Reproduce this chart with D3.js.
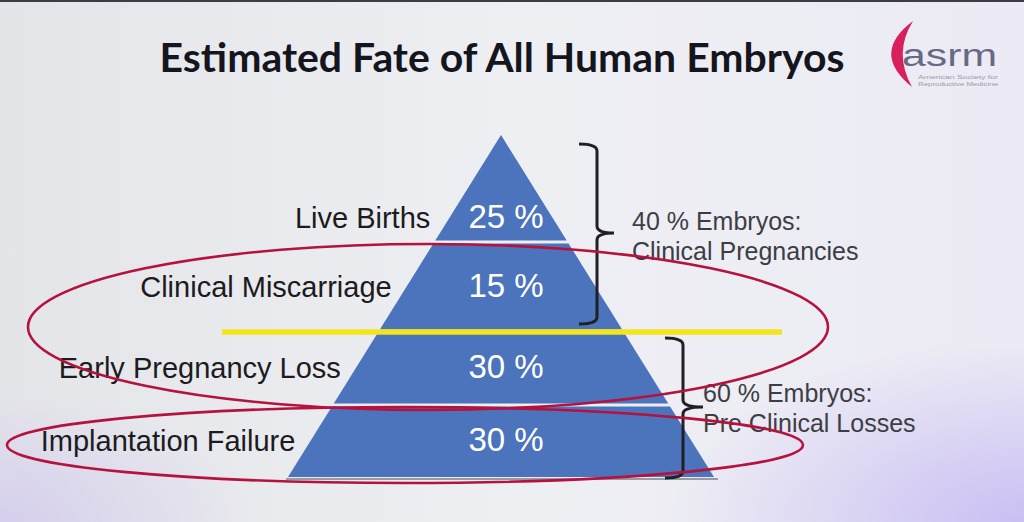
<!DOCTYPE html>
<html>
<head>
<meta charset="utf-8">
<script src="https://cdn.jsdelivr.net/npm/d3@7"></script>
<style>
  html, body { margin: 0; padding: 0; background: #eceef2; }
  svg { display: block; }
</style>
</head>
<body>
<svg id="chart" width="1024" height="522"></svg>
<script>
// ---------------- data ----------------
const title = "Estimated Fate of All Human Embryos";
const categories = ["Live Births", "Clinical Miscarriage", "Early Pregnancy Loss", "Implantation Failure"];
const values = [25, 15, 30, 30];
const groupNames = ["Clinical Pregnancies", "Pre Clinical Losses"];
const groupMembers = [[0, 1], [2, 3]];
const circledTiers = [[1, 2], [3, 3]]; // tiers enclosed by the red hand-drawn ellipses
const logoText = "asrm";
const logoSub = ["American Society for", "Reproductive Medicine"];

// ---------------- layout ----------------
const W = 1024, H = 522;
const svg = d3.select("#chart");
const defs = svg.append("defs");

// background (photographed slide)
const lg = defs.append("linearGradient").attr("id", "bgLin").attr("x1", 0).attr("y1", 0).attr("x2", 1).attr("y2", 0);
lg.append("stop").attr("offset", 0).attr("stop-color", "#e4e5e9");
lg.append("stop").attr("offset", 0.5).attr("stop-color", "#eeeff3");
lg.append("stop").attr("offset", 1).attr("stop-color", "#ecebf5");
const rgR = defs.append("radialGradient").attr("id", "bgR").attr("cx", 1).attr("cy", 1).attr("r", 0.35);
rgR.append("stop").attr("offset", 0).attr("stop-color", "#c4b7f3").attr("stop-opacity", 0.85);
rgR.append("stop").attr("offset", 1).attr("stop-color", "#c4b7f3").attr("stop-opacity", 0);
const rgL = defs.append("radialGradient").attr("id", "bgL").attr("cx", 0).attr("cy", 1).attr("r", 0.25);
rgL.append("stop").attr("offset", 0).attr("stop-color", "#d2c9ee").attr("stop-opacity", 0.8);
rgL.append("stop").attr("offset", 1).attr("stop-color", "#d2c9ee").attr("stop-opacity", 0);

svg.append("rect").attr("width", W).attr("height", H).attr("fill", "url(#bgLin)");
svg.append("rect").attr("width", W).attr("height", H).attr("fill", "url(#bgR)");
svg.append("rect").attr("width", W).attr("height", H).attr("fill", "url(#bgL)");
svg.append("rect").attr("width", W).attr("height", 2).attr("fill", "#3c3c44");

// title
const titleText = svg.append("text")
  .attr("x", 502).attr("y", 72)
  .attr("text-anchor", "middle")
  .attr("font-family", "Lato, 'Open Sans', sans-serif")
  .attr("font-weight", "bold")
  .attr("font-size", 36)
  .attr("fill", "#15151d")
  .text(title);
(function fit(sel, target) {
  const w = sel.node().getComputedTextLength();
  const fs = +sel.attr("font-size");
  sel.attr("font-size", fs * target / w);
})(titleText, 685);

// logo
const logo = svg.append("g");
logo.append("path")
  .attr("d", "M913,21 Q870,53 912,87 Q893,53 913,21 Z")
  .attr("fill", "#d7215d");
logo.append("text")
  .attr("x", 902).attr("y", 66)
  .attr("font-family", "'Liberation Sans', Arial, sans-serif")
  .attr("font-size", 31)
  .attr("fill", "#676a84")
  .attr("textLength", 95).attr("lengthAdjust", "spacingAndGlyphs")
  .text(logoText);
logo.selectAll("text.sub").data(logoSub).join("text")
  .attr("class", "sub")
  .attr("x", 918).attr("y", (d, i) => 79 + i * 7)
  .attr("font-family", "'Liberation Sans', Arial, sans-serif")
  .attr("font-size", 6)
  .attr("fill", "#9a9aa6")
  .attr("textLength", 80).attr("lengthAdjust", "spacingAndGlyphs")
  .text(d => d);

// pyramid geometry
const apexX = 501;
const tierY = d3.scaleLinear()
  .domain(d3.range(categories.length + 1))
  .range([135, 242, 331, 405, 477]);
const slope = 213 / (tierY(categories.length) - tierY(0));
const halfW = y => (y - tierY(0)) * slope;

const tiers = categories.map((c, i) => ({ name: c, value: values[i], i }));

const pyr = svg.append("g");
// base shadow
pyr.append("line")
  .attr("x1", apexX - halfW(tierY(4)) - 2).attr("x2", apexX + halfW(tierY(4)) + 4)
  .attr("y1", tierY(4) + 2).attr("y2", tierY(4) + 2)
  .attr("stroke", "#9a9aa6").attr("stroke-width", 2);

pyr.selectAll("path.tier").data(tiers).join("path")
  .attr("class", "tier")
  .attr("fill", "#4c74bc")
  .attr("d", d => {
    const t = tierY(d.i) + (d.i === 0 ? 0 : 1.5);
    const b = tierY(d.i + 1) - (d.i === categories.length - 1 ? 0 : 1.5);
    return d3.line()([
      [apexX - halfW(t), t], [apexX + halfW(t), t],
      [apexX + halfW(b), b], [apexX - halfW(b), b]
    ]) + "Z";
  });

// text vertical positions (baseline) per tier
const textBase = d => d.i === 0 ? tierY(1) - 14 : (tierY(d.i) + tierY(d.i + 1)) / 2 + 10;

// percentages inside
pyr.selectAll("text.pct").data(tiers).join("text")
  .attr("class", "pct")
  .attr("x", 506)
  .attr("y", textBase)
  .attr("text-anchor", "middle")
  .attr("font-family", "'Liberation Sans', Arial, sans-serif")
  .attr("font-size", 33)
  .attr("fill", "#ffffff")
  .text(d => d.value + " %");

// category labels on the left
pyr.selectAll("text.lab").data(tiers).join("text")
  .attr("class", "lab")
  .attr("x", d => apexX - halfW(textBase(d) - 10) - (d.i === 0 ? 19 : 15))
  .attr("y", textBase)
  .attr("text-anchor", "end")
  .attr("font-family", "'Liberation Sans', Arial, sans-serif")
  .attr("font-size", 29)
  .attr("fill", "#1b1b20")
  .text(d => d.name);

// yellow divider between clinical and pre-clinical groups
svg.append("line")
  .attr("x1", 222).attr("x2", 782)
  .attr("y1", tierY(2) + 1).attr("y2", tierY(2) + 1)
  .attr("stroke", "#f2e51c").attr("stroke-width", 5.5);

// group braces and texts
const braceCfg = [
  { x: 597, top: tierY(0) + 9, bot: tierY(2) - 7, tx: 632, ty: 230 },
  { x: 683, top: tierY(2) + 7, bot: tierY(4) + 1, tx: 703, ty: 402 }
];
groupNames.forEach((g, gi) => {
  const c = braceCfg[gi];
  const mid = gi === 0 ? tierY(1) - 9 : tierY(3) + 2;
  const hook = 18, r = 7, tip = gi === 0 ? 17 : 20;
  const p = d3.path();
  p.moveTo(c.x - hook, c.top);
  p.quadraticCurveTo(c.x, c.top, c.x, c.top + r);
  p.lineTo(c.x, mid - r);
  p.quadraticCurveTo(c.x, mid, c.x + tip, mid);
  p.quadraticCurveTo(c.x, mid, c.x, mid + r);
  p.lineTo(c.x, c.bot - r);
  p.quadraticCurveTo(c.x, c.bot, c.x - hook, c.bot);
  svg.append("path").attr("d", p.toString())
    .attr("fill", "none").attr("stroke", "#1f1f25").attr("stroke-width", 3);

  const pct = d3.sum(groupMembers[gi], k => values[k]);
  const t = svg.append("text")
    .attr("font-family", "'Liberation Sans', Arial, sans-serif")
    .attr("font-size", 25)
    .attr("fill", "#3d3d44");
  t.append("tspan").attr("x", c.tx).attr("y", c.ty).text(pct + " % Embryos:");
  t.append("tspan").attr("x", c.tx).attr("y", c.ty + 30).text(g);
});

// red hand-drawn ellipses
const ellCfg = [
  { cx: 428, cy: 327, rx: 400, ry: 83 },
  { cx: 405, cy: 445, rx: 398, ry: 38 }
];
svg.selectAll("ellipse.mark").data(circledTiers).join("ellipse")
  .attr("class", "mark")
  .attr("cx", (d, i) => ellCfg[i].cx)
  .attr("cy", (d, i) => ellCfg[i].cy)
  .attr("rx", (d, i) => ellCfg[i].rx)
  .attr("ry", (d, i) => ellCfg[i].ry)
  .attr("fill", "none")
  .attr("stroke", "#b5123d")
  .attr("stroke-width", 2.6);
</script>
</body>
</html>
